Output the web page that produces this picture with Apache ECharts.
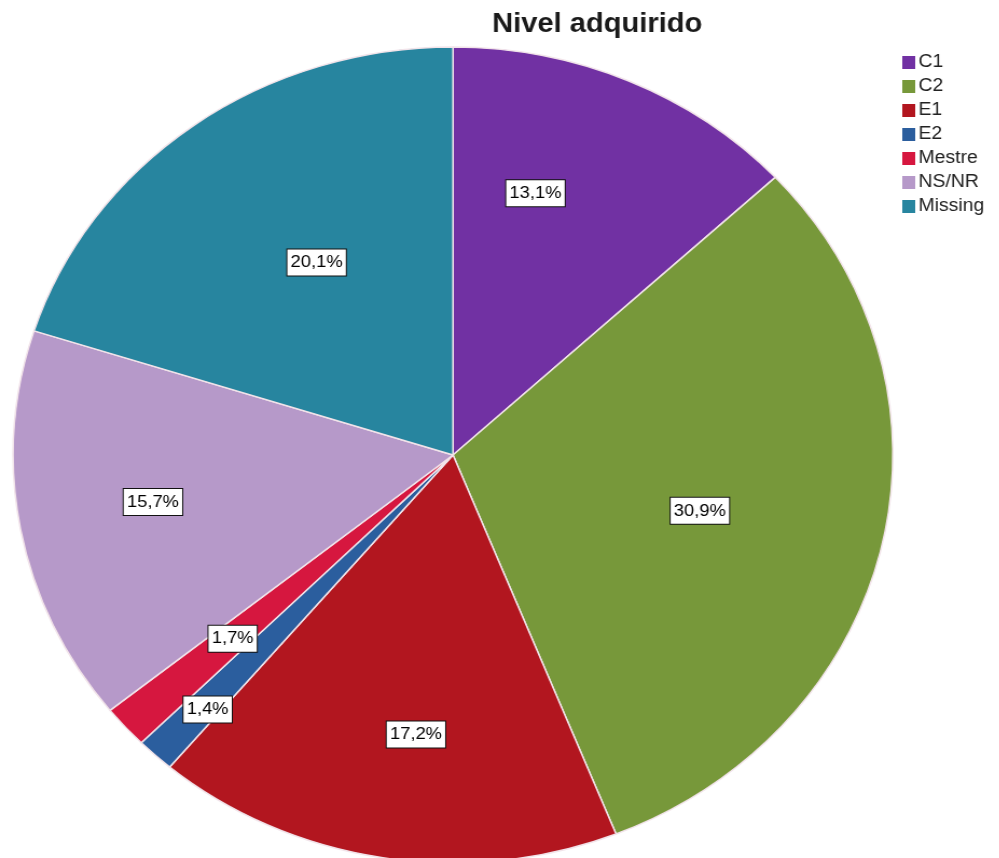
<!DOCTYPE html>
<html>
<head>
<meta charset="utf-8">
<script src="https://cdn.jsdelivr.net/npm/echarts@6/dist/echarts.min.js"></script>
<style>
  html, body { margin: 0; padding: 0; background: #ffffff; }
  #wrap { position: relative; width: 999px; height: 858px; overflow: hidden; background: #fff; }
  #chart { position: absolute; left: 0; top: 0; height: 858px; transform-origin: 0 0; }
</style>
</head>
<body>
<div id="wrap"><div id="chart"></div></div>
<script>
// ---- data ----
const titleText = 'Nivel adquirido';
const categories = ['C1', 'C2', 'E1', 'E2', 'Mestre', 'NS/NR', 'Missing'];
const percentages = [13.1, 30.9, 17.2, 1.4, 1.7, 15.7, 20.1];
const colors = ['#7131a3', '#77983a', '#b2161f', '#2b5e9e', '#d6173f', '#b699c9', '#27859f'];
// label placed further out (small slices)
const farLabels = ['E2'];
// small label nudges (screen px) to follow the original placement
const labelNudgeX = [-33, -35, 9, 5, -5, -16, 34];
const labelNudgeY = [-16, -3, 15, 2, 5, -2, 24];

// ---- layout (the SPSS pie is a horizontally stretched circle) ----
const STRETCH = 1.078;
const W = 999 / STRETCH;
const el = document.getElementById('chart');
el.style.width = W + 'px';
el.style.transform = 'scaleX(' + STRETCH + ')';

const FONT = "'Liberation Sans', Arial, sans-serif";
const fmt = p => p.value.toFixed(1).replace('.', ',') + '%';
const labelStyle = {
  position: 'inside',
  formatter: fmt,
  color: '#000',
  fontFamily: FONT,
  fontSize: 17,
  lineHeight: 19,
  backgroundColor: '#fff',
  borderColor: '#111',
  borderWidth: 1,
  padding: [4, 3, 3, 3]
};
const center = [453 / STRETCH, 455];
const nudge = p => ({ dx: labelNudgeX[p.dataIndex] / STRETCH, dy: labelNudgeY[p.dataIndex] });

const mainData = categories.map((c, i) => ({ name: c, value: percentages[i], itemStyle: { color: colors[i] } }));
const labelData = (far) => categories.map((c, i) => ({
  name: c, value: percentages[i],
  itemStyle: { color: 'rgba(0,0,0,0)', borderWidth: 0 },
  label: { show: far ? farLabels.includes(c) : !farLabels.includes(c) }
}));

const chart = echarts.init(el, null, { renderer: 'canvas' });
chart.setOption({
  animation: false,
  backgroundColor: '#fff',
  title: {
    text: titleText,
    left: 554, top: 11, textAlign: 'center', padding: 0,
    textStyle: { fontFamily: FONT, fontSize: 27, fontWeight: 'bold', color: '#1a1a1a' }
  },
  legend: {
    orient: 'vertical',
    left: 837, top: 53, padding: 0,
    itemWidth: 12, itemHeight: 13, itemGap: 5,
    icon: 'rect',
    itemStyle: { borderWidth: 0 },
    data: categories,
    textStyle: { fontFamily: FONT, fontSize: 18, lineHeight: 19, color: '#222', padding: [0, 0, 0, -2] },
    selectedMode: false
  },
  series: [
    {
      type: 'pie', name: 'main', silent: true,
      center: center, radius: 408,
      startAngle: 90, clockwise: true,
      label: { show: false }, labelLine: { show: false },
      itemStyle: { borderColor: '#f2e4ea', borderWidth: 1.5 },
      data: mainData
    },
    {
      type: 'pie', name: 'labels', silent: true, legendHoverLink: false,
      center: center, radius: [0, 530],
      startAngle: 90, clockwise: true,
      label: labelStyle, labelLine: { show: false },
      labelLayout: nudge,
      data: labelData(false)
    },
    {
      type: 'pie', name: 'labelsFar', silent: true, legendHoverLink: false,
      center: center, radius: [0, 680],
      startAngle: 90, clockwise: true,
      label: labelStyle, labelLine: { show: false },
      labelLayout: nudge,
      data: labelData(true)
    }
  ]
});
</script>
</body>
</html>
